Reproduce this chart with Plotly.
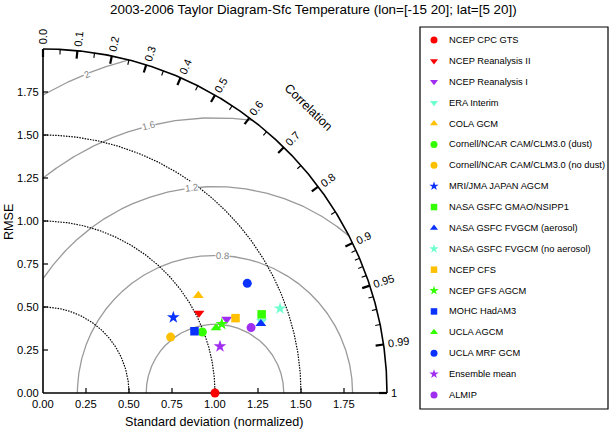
import numpy as np
import plotly.graph_objects as go

# ---------------- data ----------------
names = ["NCEP CPC GTS", "NCEP Reanalysis II", "NCEP Reanalysis I", "ERA Interim",
         "COLA GCM", "Cornell/NCAR CAM/CLM3.0 (dust)", "Cornell/NCAR CAM/CLM3.0 (no dust)",
         "MRI/JMA JAPAN AGCM", "NASA GSFC GMAO/NSIPP1", "NASA GSFC FVGCM (aerosol)",
         "NASA GSFC FVGCM (no aerosol)", "NCEP CFS", "NCEP GFS AGCM", "MOHC HadAM3",
         "UCLA AGCM", "UCLA MRF GCM", "Ensemble mean", "ALMIP"]
std_norm = [1.000, 1.019, 1.151, 1.338, 1.066, 0.992, 0.810, 0.876, 1.351, 1.329,
            1.463, 1.201, 1.114, 0.951, 1.075, 1.348, 1.064, 1.268]
corr = [1.000, 0.890, 0.928, 0.950, 0.847, 0.934, 0.916, 0.865, 0.941, 0.953,
        0.942, 0.932, 0.933, 0.926, 0.936, 0.881, 0.967, 0.954]
symbols = ["circle", "triangle-down", "triangle-down", "triangle-down", "triangle-up",
           "circle", "circle", "star", "square", "triangle-up", "star", "square", "star",
           "square", "triangle-up", "circle", "star", "circle"]
colors = ["#ff0000", "#ff0000", "#a02ef0", "#70ffd0", "#ffc000", "#33ff00", "#ffc000",
          "#0a32ff", "#33ff00", "#0a32ff", "#70ffd0", "#ffc000", "#33ff00", "#0a32ff",
          "#33ff00", "#0a32ff", "#a02ef0", "#a02ef0"]

std_ticks = [0.0, 0.25, 0.5, 0.75, 1.0, 1.25, 1.5, 1.75]
std_tick_labels = ["0.00", "0.25", "0.50", "0.75", "1.00", "1.25", "1.50", "1.75"]
corr_major = [0.0, 0.1, 0.2, 0.3, 0.4, 0.5, 0.6, 0.7, 0.8, 0.9, 0.95, 0.99, 1.0]
corr_major_labels = ["0.0", "0.1", "0.2", "0.3", "0.4", "0.5", "0.6", "0.7", "0.8",
                     "0.9", "0.95", "0.99", "1"]
corr_minor = [0.05, 0.15, 0.25, 0.35, 0.45, 0.55, 0.65, 0.75, 0.85,
              0.91, 0.92, 0.93, 0.94, 0.96, 0.97, 0.98]
std_arcs = [0.5, 1.0, 1.5]
rmse_levels = [0.4, 0.8, 1.2, 1.6, 2.0]
rmse_label_text = ["0.8", "1.2", "1.6", "2"]
rmse_label_level = [0.8, 1.2, 1.6, 2.0]
rmse_label_angle = [87, 96.5, 104, 112]

R_MAX = 2.0
REF_STD = 1.0

# ---------------- geometry ----------------
W, H = 611, 431
PPU = 172.0           # pixels per unit
X0, Y0 = 43.0, 393.0  # pixel position of the origin
px = lambda p: p / PPU
dx = lambda p: (p - X0) / PPU   # pixel x -> data x
dy = lambda p: (Y0 - p) / PPU   # pixel y -> data y
FONT = "Liberation Sans, Arial, Helvetica, sans-serif"

fig = go.Figure()

def add_line(xs, ys, color, width, dash="solid"):
    fig.add_trace(go.Scatter(x=xs, y=ys, mode="lines", showlegend=False, hoverinfo="skip",
                             line=dict(color=color, width=width, dash=dash)))

# RMSE circles (gray)
for L in rmse_levels:
    t = np.linspace(0, np.pi, 3000)
    xs = REF_STD + L * np.cos(t)
    ys = L * np.sin(t)
    ok = (xs >= 0) & (np.hypot(xs, ys) <= R_MAX)
    add_line(list(xs[ok]), list(ys[ok]), "#9a9a9a", 1.3)

# std dev arcs (dotted black)
th = np.linspace(0, np.pi / 2, 400)
for s in std_arcs:
    add_line(list(s * np.cos(th)), list(s * np.sin(th)), "black", 1.2, "1.5px,1.2px")

# outer arc and axes
add_line(list(R_MAX * np.cos(th)), list(R_MAX * np.sin(th)), "black", 1.6)
add_line([0, R_MAX], [0, 0], "black", 1.6)
add_line([0, 0], [0, R_MAX], "black", 1.6)

# std ticks
tx, ty = [], []
for t in std_ticks[1:]:
    tx += [t, t, None, 0, px(5), None]
    ty += [0, px(5), None, t, t, None]
add_line(tx, ty, "black", 1.2)

# correlation ticks
def corr_ticks(vals, length, width):
    xs, ys = [], []
    for c in vals:
        a = np.arccos(c)
        for r in (R_MAX - px(length), R_MAX):
            xs.append(r * np.cos(a)); ys.append(r * np.sin(a))
        xs.append(None); ys.append(None)
    add_line(xs, ys, "black", width)

corr_ticks(corr_major, 8, 2.2)
corr_ticks(corr_minor, 5, 1.1)

# data markers
plot_size = {"circle": 9, "triangle-up": 9.5, "triangle-down": 9.5, "star": 9.5, "square": 8.5}
for n, s, c, sym, col in zip(names, std_norm, corr, symbols, colors):
    a = np.arccos(c)
    fig.add_trace(go.Scatter(x=[s * np.cos(a)], y=[s * np.sin(a)], mode="markers",
                             name=n, showlegend=False,
                             marker=dict(symbol=sym, color=col, size=plot_size[sym],
                                         line=dict(width=0))))

ann = []
# legend (drawn manually inside the box)
leg_size = {"circle": 7, "triangle-up": 7, "triangle-down": 7, "star": 7, "square": 6.5}
LEG_Y0, LEG_DY = 40.0, 20.88
for i, (n, sym, col) in enumerate(zip(names, symbols, colors)):
    yy = dy(LEG_Y0 + i * LEG_DY)
    fig.add_trace(go.Scatter(x=[dx(434)], y=[yy], mode="markers", name=n, showlegend=False,
                             marker=dict(symbol=sym, color=col, size=leg_size[sym],
                                         line=dict(width=0))))
    ann.append(dict(x=dx(447), y=yy, xref="x", yref="y", text=n, showarrow=False,
                    xanchor="left", yanchor="middle", font=dict(size=9.3, color="black")))

# x tick labels
for t, lab in zip(std_ticks, std_tick_labels):
    ann.append(dict(x=t, y=-px(11), xref="x", yref="y", text=lab, showarrow=False,
                    xanchor="center", yanchor="middle", font=dict(size=11.2, color="black")))
# y tick labels
for t, lab in zip(std_ticks, std_tick_labels):
    ann.append(dict(x=-px(2), y=t, xref="x", yref="y", text=lab, showarrow=False,
                    xanchor="right", yanchor="middle", font=dict(size=11.2, color="black")))
# correlation labels
for c, lab in zip(corr_major, corr_major_labels):
    a = np.arccos(c)
    w = 6.2 * len(lab.replace(".", "")) + 3.1 * lab.count(".")
    r = R_MAX + px(4 + w / 2)
    ann.append(dict(x=r * np.cos(a), y=r * np.sin(a), xref="x", yref="y", text=lab,
                    showarrow=False, xanchor="center", yanchor="middle",
                    textangle=-np.degrees(a), font=dict(size=11, color="black")))
# RMSE contour labels
for lab, L, ang in zip(rmse_label_text, rmse_label_level, rmse_label_angle):
    a = np.radians(ang)
    ann.append(dict(x=REF_STD + L * np.cos(a), y=L * np.sin(a), xref="x", yref="y",
                    text=lab, showarrow=False, xanchor="center", yanchor="middle",
                    textangle=-(ang - 90), bgcolor="white", borderpad=0,
                    font=dict(size=9.5, color="#808080")))
# Correlation title
ann.append(dict(x=dx(308), y=dy(107), xref="x", yref="y",
                text="Correlation", showarrow=False, textangle=44,
                font=dict(size=12.5, color="black")))
# axis titles
ann.append(dict(x=dx(214), y=dy(422), xref="x", yref="y",
                text="Standard deviation (normalized)", showarrow=False,
                font=dict(size=12.6, color="black")))
ann.append(dict(x=dx(9), y=dy(222), xref="x", yref="y",
                text="RMSE", showarrow=False, textangle=-90,
                font=dict(size=12.6, color="black")))
# title
ann.append(dict(x=dx(313), y=dy(9), xref="x", yref="y",
                text="2003-2006 Taylor Diagram-Sfc Temperature (lon=[-15 20]; lat=[5 20])",
                showarrow=False, font=dict(size=13.4, color="black")))

fig.update_layout(
    width=W, height=H, autosize=False,
    margin=dict(l=0, r=0, t=0, b=0, pad=0),
    paper_bgcolor="white", plot_bgcolor="white",
    font=dict(family=FONT, color="black"),
    xaxis=dict(range=[dx(0), dx(W)], visible=False, fixedrange=True),
    yaxis=dict(range=[dy(H), dy(0)], visible=False, fixedrange=True),
    annotations=ann,
    shapes=[dict(type="rect", xref="x", yref="y",
                 x0=dx(420), x1=dx(608), y0=dy(409), y1=dy(27),
                 line=dict(color="black", width=1.2), fillcolor="rgba(0,0,0,0)")],
    showlegend=False,
)

fig.write_html("out.html", config={"displayModeBar": False},
               post_script="document.body.style.margin='0';document.body.style.overflow='hidden';")
